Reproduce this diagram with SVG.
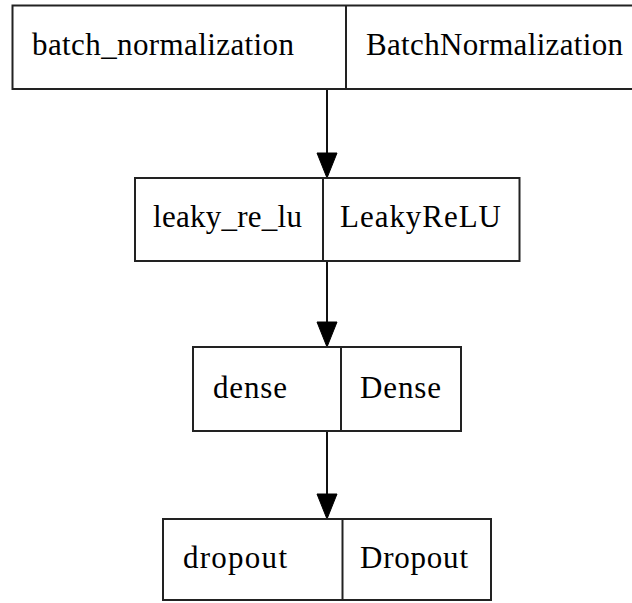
<svg xmlns="http://www.w3.org/2000/svg" width="632" height="603" viewBox="0 0 632 603">
  <style>
    .box { fill: #ffffff; stroke: #222222; stroke-width: 2; }
    .sep { stroke: #222222; stroke-width: 2; }
    .edge { stroke: #111111; stroke-width: 2; fill: none; }
    .head { fill: #000000; stroke: #000000; stroke-width: 1; }
  </style>
  <rect width="632" height="603" fill="#ffffff"/>

  <g id="connectors">
    <line class="edge" x1="327" y1="89" x2="327" y2="154"/>
    <polygon class="head" points="317,153 337,153 327,178"/>
    <line class="edge" x1="327" y1="261" x2="327" y2="323"/>
    <polygon class="head" points="317,322 337,322 327,347"/>
    <line class="edge" x1="327" y1="431" x2="327" y2="495"/>
    <polygon class="head" points="317,494 337,494 327,519"/>
  </g>

  <g font-family="Liberation Serif, Times New Roman, serif" font-size="31" fill="#000000" lengthAdjust="spacing">
    <g id="batch_normalization">
      <rect class="box" x="12.5" y="5.5" width="640" height="83.5"/>
      <line class="sep" x1="346" y1="5.5" x2="346" y2="89"/>
      <text x="32" y="55" textLength="262" lengthAdjust="spacing">batch_normalization</text>
      <text x="366" y="55" textLength="257" lengthAdjust="spacing">BatchNormalization</text>
    </g>

    <g id="leaky_re_lu">
      <rect class="box" x="135" y="178" width="384.5" height="83"/>
      <line class="sep" x1="323" y1="178" x2="323" y2="261"/>
      <text x="153" y="227" textLength="149" lengthAdjust="spacing">leaky_re_lu</text>
      <text x="340" y="227" textLength="161" lengthAdjust="spacing">LeakyReLU</text>
    </g>

    <g id="dense">
      <rect class="box" x="193" y="347" width="268" height="84"/>
      <line class="sep" x1="341" y1="347" x2="341" y2="431"/>
      <text x="213" y="398" textLength="74" lengthAdjust="spacing">dense</text>
      <text x="360" y="398" textLength="81" lengthAdjust="spacing">Dense</text>
    </g>

    <g id="dropout">
      <rect class="box" x="163" y="519" width="328" height="81"/>
      <line class="sep" x1="342.5" y1="519" x2="342.5" y2="600"/>
      <text x="183" y="568" textLength="104" lengthAdjust="spacing">dropout</text>
      <text x="360" y="568" textLength="108" lengthAdjust="spacing">Dropout</text>
    </g>
  </g>
</svg>
